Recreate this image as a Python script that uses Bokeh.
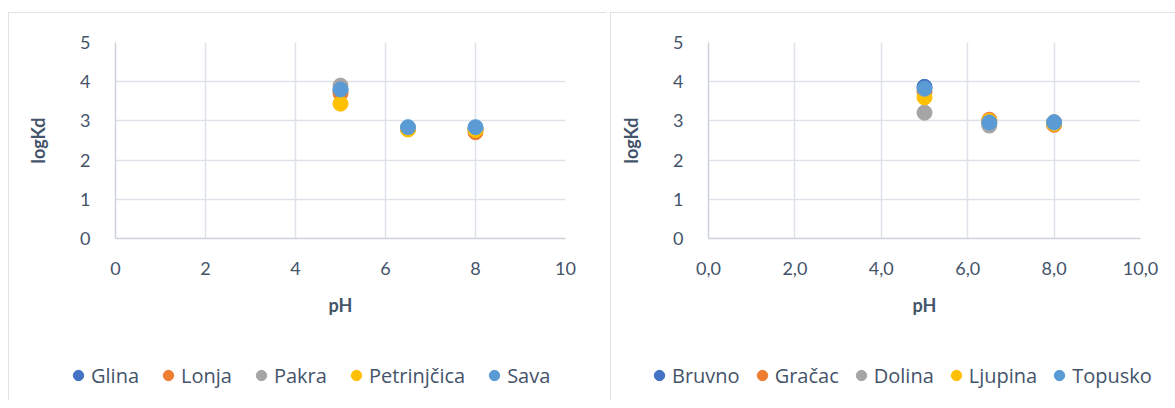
from bokeh.plotting import figure
from bokeh.models import Legend, LegendItem, FixedTicker, Range1d, Spacer
from bokeh.layouts import row, column
from bokeh.embed import file_html
from bokeh.resources import INLINE

# ---- data ----
ph = [5, 6.5, 8]

left_names = ["Glina", "Lonja", "Pakra", "Petrinjčica", "Sava"]
glina = [3.78, 2.80, 2.80]
lonja = [3.70, 2.80, 2.71]
pakra = [3.90, 2.81, 2.78]
petrinjcica = [3.44, 2.78, 2.77]
sava = [3.80, 2.84, 2.84]

right_names = ["Bruvno", "Gračac", "Dolina", "Ljupina", "Topusko"]
bruvno = [3.87, 2.95, 2.96]
gracac = [3.74, 3.03, 2.90]
dolina = [3.21, 2.88, 2.97]
ljupina = [3.60, 3.00, 2.93]
topusko = [3.82, 2.96, 2.96]

x_ticks = [0, 2, 4, 6, 8, 10]
left_x_labels = ["0", "2", "4", "6", "8", "10"]
right_x_labels = ["0,0", "2,0", "4,0", "6,0", "8,0", "10,0"]
y_ticks = [0, 1, 2, 3, 4, 5]

colors = ["#4472C4", "#ED7D31", "#A5A5A5", "#FFC000", "#5B9BD5"]
FONT = "Lato"
LEG_FONT = "Open Sans"
TXT = "#44546A"
GRID = "#DEE2E9"

TOP_H = 310
LEG_H = 78


def panel(names, series, xlabels, frame_w, min_left, total_w, legend_x,
          legend_spacing):
    p = figure(output_backend="svg", toolbar_location=None,
               x_range=Range1d(0, 10), y_range=Range1d(0, 5),
               frame_width=frame_w, frame_height=196,
               min_border_left=min_left, min_border_top=30,
               min_border_right=total_w - frame_w - min_left,
               min_border_bottom=TOP_H - 30 - 196)
    p.outline_line_color = None
    p.background_fill_color = "white"
    p.border_fill_color = "white"

    p.xaxis.ticker = FixedTicker(ticks=x_ticks)
    p.xaxis.major_label_overrides = {t: l for t, l in zip(x_ticks, xlabels)}
    p.yaxis.ticker = FixedTicker(ticks=y_ticks)
    p.xgrid.ticker = FixedTicker(ticks=x_ticks)
    p.ygrid.ticker = FixedTicker(ticks=y_ticks)
    for g in (p.xgrid, p.ygrid):
        g.grid_line_color = GRID
        g.grid_line_width = 1.5
    for ax in (p.xaxis, p.yaxis):
        ax.axis_line_color = "#CDD2DA"
        ax.axis_line_width = 1.5
        ax.major_tick_line_color = None
        ax.minor_tick_line_color = None
        ax.major_label_text_font = FONT
        ax.major_label_text_font_size = "18px"
        ax.major_label_text_color = TXT
        ax.axis_label_text_font = FONT
        ax.axis_label_text_font_size = "18px"
        ax.axis_label_text_font_style = "bold"
        ax.axis_label_text_color = TXT
    p.xaxis.axis_label = "pH"
    p.yaxis.axis_label = "logKd"
    p.xaxis.major_label_standoff = 17
    p.xaxis.axis_label_standoff = 16
    p.yaxis.major_label_standoff = 19
    p.yaxis.axis_label_standoff = 28

    for name, ys, c in zip(names, series, colors):
        p.scatter(ph, ys, size=15, fill_color=c, line_color=c)

    # legend strip under the chart
    lf = figure(output_backend="svg", toolbar_location=None,
                frame_width=total_w, frame_height=LEG_H,
                x_axis_location=None, y_axis_location=None,
                x_range=Range1d(0, 10), y_range=Range1d(0, 5),
                min_border_left=0, min_border_right=0,
                min_border_top=0, min_border_bottom=0)
    lf.grid.visible = False
    lf.outline_line_color = None
    lf.background_fill_color = "white"
    lf.border_fill_color = "white"
    items = []
    for name, ys, c in zip(names, series, colors):
        r = lf.scatter(ph, ys, size=15, fill_color=c, line_color=c,
                       visible=False)
        items.append(LegendItem(label=name, renderers=[r]))
    leg = Legend(items=items, orientation="horizontal",
                 location=(legend_x, 10))
    leg.border_line_color = None
    leg.background_fill_alpha = 0
    leg.inactive_fill_alpha = 0
    leg.padding = 0
    leg.margin = 0
    leg.glyph_width = 26
    leg.glyph_height = 30
    leg.label_standoff = 0
    leg.spacing = legend_spacing
    leg.label_text_font = LEG_FONT
    leg.label_text_font_size = "20px"
    leg.label_text_color = TXT
    lf.add_layout(leg, "center")

    col = column(p, lf, spacing=0)
    col.styles = {"outline": "1px solid #D9D9D9", "outline-offset": "-1px"}
    return col


c1 = panel(left_names, [glina, lonja, pakra, petrinjcica, sava],
           left_x_labels, 450, 107, 598, 57, 16)
c2 = panel(right_names, [bruvno, gracac, dolina, ljupina, topusko],
           right_x_labels, 432, 98, 565, 36, 9)

layout = column(Spacer(height=12),
                row(Spacer(width=8), c1, Spacer(width=4), c2, spacing=0),
                spacing=0)

open("out.html", "w").write(file_html(layout, INLINE))
